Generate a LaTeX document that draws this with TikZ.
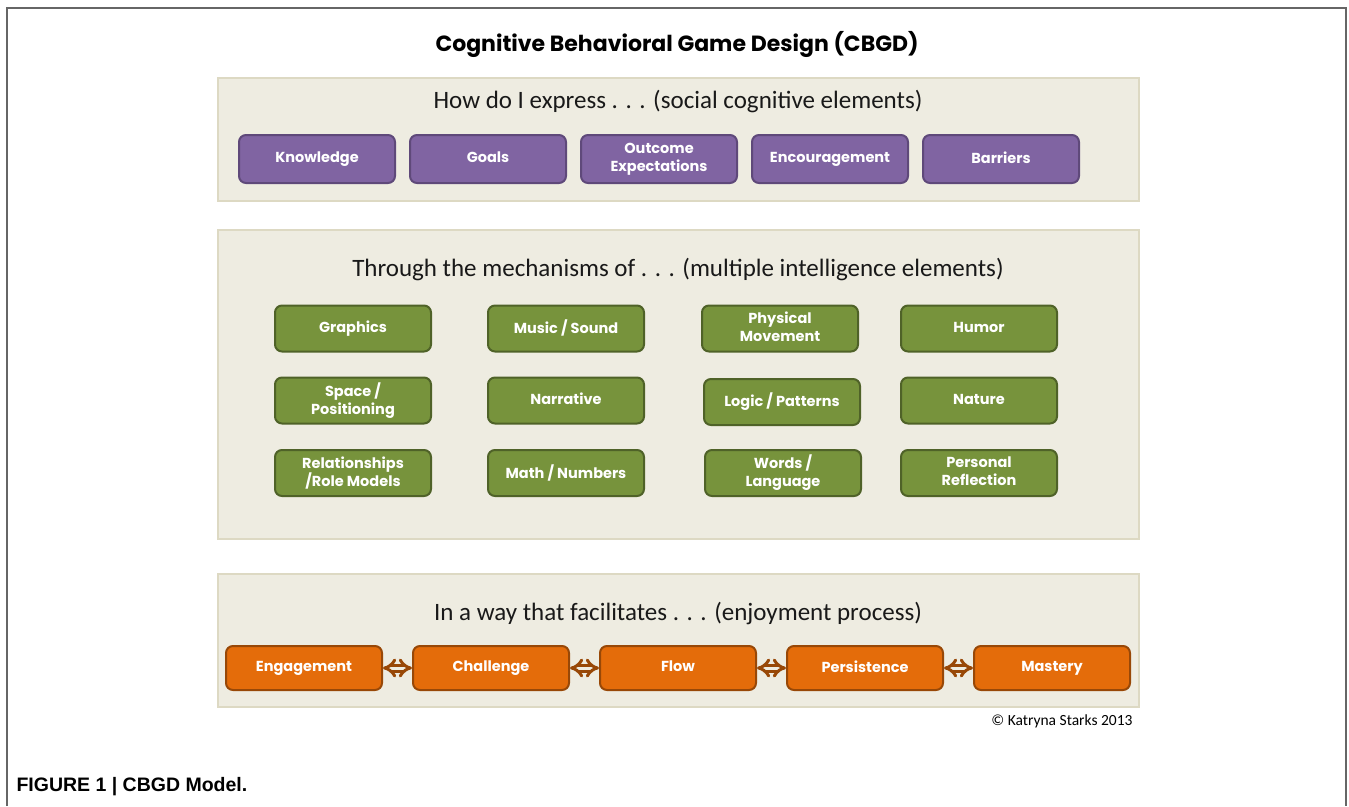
\documentclass[tikz,border=0pt]{standalone}
\usepackage{fontspec}
\usetikzlibrary{arrows.meta}
\newfontfamily\gothic{Poppins}
\newfontfamily\calib{Carlito}
\newfontfamily\helv{Liberation Sans}
\definecolor{panelfill}{HTML}{EEECE1}
\definecolor{paneledge}{HTML}{DDD9C3}
\definecolor{purplefill}{HTML}{8064A2}
\definecolor{purpleedge}{HTML}{5F497A}
\definecolor{greenfill}{HTML}{77933C}
\definecolor{greenedge}{HTML}{4F6228}
\definecolor{orangefill}{HTML}{E46C0A}
\definecolor{orangeedge}{HTML}{984807}
\newcommand{\boxstrut}{\rule[-3pt]{0pt}{13pt}}

\begin{document}
\begin{tikzpicture}[x=1pt,y=-1pt,
  panel/.style={draw=paneledge,fill=panelfill,line width=2.5pt,minimum width=921pt,inner sep=0pt},
  heading/.style={font=\calib\fontsize{25}{28}\selectfont,text=black!90},
  item/.style={rounded corners=7pt,line width=2pt,minimum width=156pt,align=center,
    text=white,font=\gothic\bfseries\fontsize{14.5}{18}\selectfont,inner sep=0pt,
    execute at begin node=\boxstrut,execute at end node=\boxstrut},
  social/.style={item,draw=purpleedge,fill=purplefill,minimum height=48pt},
  mind/.style={item,draw=greenedge,fill=greenfill,minimum height=46pt},
  joy/.style={item,draw=orangeedge,fill=orangefill,minimum height=44pt},
  link/.style={draw=orangeedge,double=panelfill,double distance=3pt,line width=3pt,
    {Implies}-{Implies}}]
\useasboundingbox (0,0) rectangle (1349,806);
\draw[gray!80!black,line width=2pt] (7,806) -- (7,8) -- (1346,8) -- (1346,806);
\node[font=\gothic\bfseries\fontsize{22}{26}\selectfont] (title) at (677,44) {Cognitive Behavioral Game Design (CBGD)};

% social cognitive elements
\node[panel,minimum height=123pt] (express) at (678.5,139.5) {};
\node[heading] (expresshead) at (678,102) {How do I express . . . (social cognitive elements)};
\node[social] (knowledge) at (317,159) {Knowledge};
\node[social] (goals) at (488,159) {Goals};
\node[social] (outcome) at (659,159) {Outcome\\Expectations};
\node[social] (encourage) at (830,159) {Encouragement};
\node[social] (barriers) at (1001,159) {Barriers};

% multiple intelligence elements
\node[panel,minimum height=309pt] (mechanisms) at (678.5,384.5) {};
\node[heading] (mechhead) at (678,270) {Through the mechanisms of . . . (multiple intelligence elements)};
\node[mind] (graphics) at (353,328.5) {Graphics};
\node[mind] (music) at (566,328.5) {Music / Sound};
\node[mind] (physical) at (780,328.5) {Physical\\Movement};
\node[mind] (humor) at (979,328.5) {Humor};
\node[mind] (space) at (353,400.5) {Space /\\Positioning};
\node[mind] (narrative) at (566,400.5) {Narrative};
\node[mind] (logic) at (782,402) {Logic / Patterns};
\node[mind] (nature) at (979,400.5) {Nature};
\node[mind] (relations) at (353,473) {Relationships\\/Role Models};
\node[mind] (math) at (566,473) {Math / Numbers};
\node[mind] (words) at (783,473) {Words /\\Language};
\node[mind] (reflection) at (979,473) {Personal\\Reflection};

% enjoyment process
\node[panel,minimum height=133pt] (enjoy) at (678.5,640.5) {};
\node[heading] (enjoyhead) at (678,613) {In a way that facilitates . . . (enjoyment process)};
\node[joy] (engagement) at (304,668) {Engagement};
\node[joy] (challenge) at (491,668) {Challenge};
\node[joy] (flow) at (678,668) {Flow};
\node[joy] (persistence) at (865,668) {Persistence};
\node[joy] (mastery) at (1052,668) {Mastery};
\draw[link] (engagement) -- (challenge);
\draw[link] (challenge) -- (flow);
\draw[link] (flow) -- (persistence);
\draw[link] (persistence) -- (mastery);

\node[anchor=east,font=\calib\fontsize{15.5}{18}\selectfont] (credit) at (1136,721) {\textcopyright{} Katryna Starks 2013};
\node[anchor=west,font=\helv\bfseries\fontsize{19.5}{22}\selectfont] (caption) at (13,787) {FIGURE 1 | CBGD Model.};
\end{tikzpicture}
\end{document}
